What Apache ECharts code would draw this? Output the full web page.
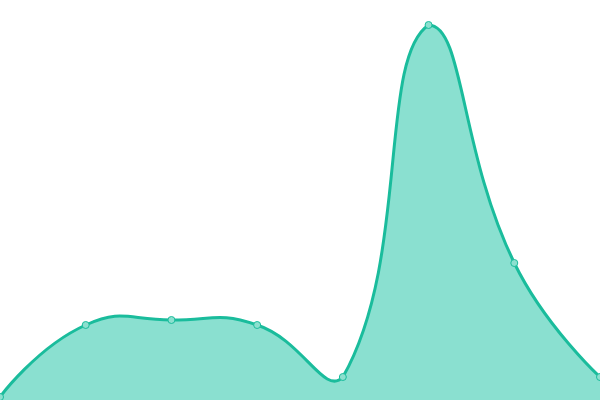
<!DOCTYPE html>
<html><head><meta charset="utf-8">
<script src="https://cdn.jsdelivr.net/npm/echarts@6/dist/echarts.min.js"></script>
<style>html,body{margin:0;padding:0;background:#fff}#c{width:600px;height:400px}</style>
</head><body><div id="c"></div>
<script>
var categories = ['1','2','3','4','5','6','7','8'];
var values = [3, 75, 80, 75, 23, 375, 137, 23];
var SMOOTH = 0.5;

function smoothPath(pts) {
  // bezier control points (ECharts 4 style: clamped to the bounding box of all points)
  var n = pts.length, cpIn = [], cpOut = [];
  var minX = Infinity, minY = Infinity, maxX = -Infinity, maxY = -Infinity;
  pts.forEach(function (p) {
    minX = Math.min(minX, p[0]); maxX = Math.max(maxX, p[0]);
    minY = Math.min(minY, p[1]); maxY = Math.max(maxY, p[1]);
  });
  function clamp(c) {
    return [Math.min(maxX, Math.max(minX, c[0])), Math.min(maxY, Math.max(minY, c[1]))];
  }
  for (var i = 0; i < n; i++) {
    var p = pts[i];
    if (i === 0 || i === n - 1) { cpIn.push(p); cpOut.push(p); continue; }
    var pr = pts[i - 1], nx = pts[i + 1];
    var vx = nx[0] - pr[0], vy = nx[1] - pr[1];
    var d0 = Math.hypot(p[0] - pr[0], p[1] - pr[1]);
    var d1 = Math.hypot(nx[0] - p[0], nx[1] - p[1]);
    var r = (d0 + d1) ? d1 / (d0 + d1) : 0.5;
    cpIn.push(clamp([p[0] - vx * SMOOTH * (1 - r), p[1] - vy * SMOOTH * (1 - r)]));
    cpOut.push(clamp([p[0] + vx * SMOOTH * r, p[1] + vy * SMOOTH * r]));
  }
  var d = 'M' + pts[0][0] + ' ' + pts[0][1];
  for (var j = 1; j < n; j++) {
    d += ' C' + cpOut[j - 1][0] + ' ' + cpOut[j - 1][1] + ' ' + cpIn[j][0] + ' ' + cpIn[j][1] + ' ' + pts[j][0] + ' ' + pts[j][1];
  }
  return d;
}

var chart = echarts.init(document.getElementById('c'));
chart.setOption({
  animation: false,
  grid: {left: 0, right: 0, top: 0, bottom: 0},
  xAxis: {type: 'category', data: categories, boundaryGap: false, show: false},
  yAxis: {type: 'value', min: 0, max: 400, show: false},
  series: [{
    type: 'custom',
    z: 1,
    data: values.map(function (v, i) { return [i, v]; }),
    renderItem: function (params, api) {
      if (params.dataIndex !== 0) return null;
      var pts = values.map(function (v, i) { return api.coord([i, v]); });
      var base = api.coord([0, 0])[1];
      var line = smoothPath(pts);
      var area = line + ' L' + pts[pts.length - 1][0] + ' ' + base + ' L' + pts[0][0] + ' ' + base + ' Z';
      return {
        type: 'group',
        children: [
          {type: 'path', shape: {pathData: area}, style: {fill: '#8ae0d0', stroke: null}},
          {type: 'path', shape: {pathData: line}, style: {fill: 'none', stroke: '#1abc9c', lineWidth: 3}}
        ]
      };
    }
  }, {
    type: 'line',
    z: 5,
    data: values,
    symbol: 'circle',
    symbolSize: 7,
    showSymbol: true,
    lineStyle: {opacity: 0},
    itemStyle: {color: '#8ce0cf', borderColor: '#1abc9c', borderWidth: 1}
  }]
});
</script></body></html>
